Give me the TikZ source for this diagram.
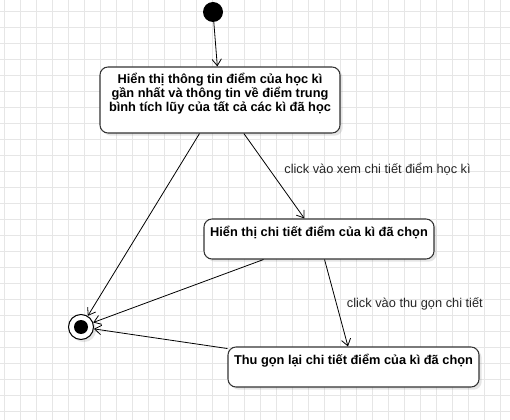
\documentclass[tikz,border=0pt]{standalone}
\usepackage{fontspec}
\setmainfont{Liberation Sans}
\usetikzlibrary{arrows.meta,shadows}
\definecolor{gridgray}{HTML}{E6E6E6}
\definecolor{edgegray}{HTML}{333333}
\begin{document}
\begin{tikzpicture}[x=0.75pt, y=-0.75pt,
        state/.style={draw=edgegray, line width=0.8pt, fill=white, rectangle, rounded corners=6pt,
            font=\fontsize{9.6}{9}\selectfont\bfseries, align=center, text depth=12pt,
            drop shadow={shadow xshift=2pt, shadow yshift=-2pt, opacity=0.2}},
        trans/.style={-{Straight Barb[length=5pt,width=7pt]}, line width=0.6pt},
        guard/.style={font=\fontsize{9.6}{11}\selectfont, text=black!85, anchor=west, inner sep=0pt}]
        \fill[white] (0,0) rectangle (510,420);
        \useasboundingbox (0,0) rectangle (510,420);
        \foreach \gx in {4,20,...,500} \draw[gridgray, line width=0.5pt] (\gx,0) -- (\gx,420);
        \foreach \gy in {11,27,...,411} \draw[gridgray, line width=0.5pt] (0,\gy) -- (510,\gy);

        \node (start) [circle, fill=black, minimum size=15pt, inner sep=0pt] at (213,12) {};
        \node (summary) [state, minimum width=180pt, minimum height=49.5pt] at (220,100)
            {Hiển thị thông tin điểm của học kì\\gần nhất và thông tin về điểm trung\\bình tích lũy của tất cả các kì đã học};
        \node (detail) [state, minimum width=172.5pt, minimum height=30pt] at (319,239) {Hiển thị chi tiết điểm của kì đã chọn};
        \node (collapse) [state, minimum width=188.25pt, minimum height=30pt] at (353.5,367) {Thu gọn lại chi tiết điểm của kì đã chọn};
        \node (end) [circle, draw=black, line width=0.8pt, fill=white, minimum size=18.75pt, inner sep=0pt,
            drop shadow={shadow xshift=2pt, shadow yshift=-2pt, opacity=0.2}] at (81,327) {};
        \fill (end.center) circle (5.25pt);

        \draw[trans] (start) -- (summary);
        \draw[trans] (summary) -- node[guard, pos=0.42, xshift=11pt] {click vào xem chi tiết điểm học kì} (detail);
        \draw[trans] (summary) -- (end);
        \draw[trans] (detail) -- node[guard, pos=0.51, xshift=7.5pt] {click vào thu gọn chi tiết} (collapse);
        \draw[trans] (detail) -- (end);
        \draw[trans] (collapse) -- (end);
    \end{tikzpicture}
\end{document}
